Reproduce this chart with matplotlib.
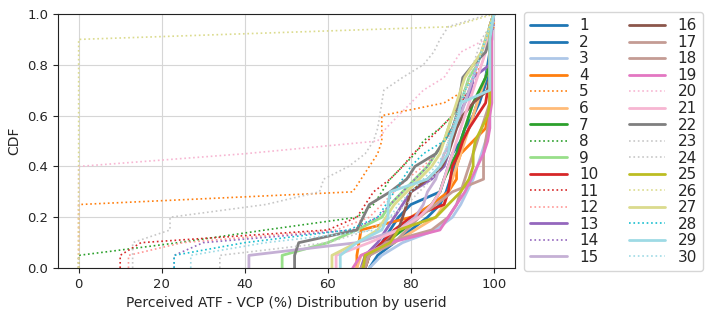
import numpy as np
import matplotlib
matplotlib.use('Agg')
import matplotlib.pyplot as plt
import seaborn as sns

# per-user sorted samples (21 quantiles each), value = perceived ATF - VCP (%)
user_ids = [str(i) for i in range(1, 31)]

u1 = [68, 70, 73, 75, 77, 80, 87, 88, 89, 90, 92, 93, 95, 96, 97, 98, 98.5, 99, 99, 99, 100]
u2 = [70, 72, 76, 80, 84, 87, 88.5, 89.5, 90.5, 91.5, 92.5, 94, 95, 96.5, 97.5, 98.5, 99, 99, 99, 99, 100]
u3 = [70, 73, 78, 86, 90, 92, 93.5, 95, 96, 97, 98, 99, 99, 99, 99, 99, 99, 99, 99, 99, 100]
u4 = [67, 67, 67.5, 68, 80, 85, 89, 91, 91, 92, 95, 98, 98.5, 99, 99, 99, 99, 99, 99, 99, 100]
u5 = [0, 0, 0, 0, 0, 0, 66, 68, 70, 72, 73, 73, 73, 88, 93, 95, 97, 98, 99, 100, 100]
u6 = [67, 68, 76, 81, 86, 88, 89, 90, 91, 92, 93, 94, 95, 96, 97, 98, 99, 99, 99, 99, 100]
u7 = [69, 70, 74, 78, 82, 85, 87, 88, 89.5, 91, 92, 93, 94, 95, 96.5, 98, 99, 99, 99, 99, 100]
u8 = [0, 0, 24, 45, 67, 71, 73, 75, 78, 81, 83, 87, 90, 92, 94, 95, 96, 97, 98, 99, 100]
u9 = [49, 49, 60, 67, 73, 75, 78, 81, 84, 86, 88, 89, 90, 92, 93, 94, 96, 97, 98, 99, 100]
u10 = [69, 70, 73, 76, 80, 88, 89, 89.5, 90, 91.5, 92.5, 94, 96, 98, 98.5, 99, 99, 99, 99, 99, 100]
u11 = [10, 10, 15, 60, 67, 69, 71, 75, 78, 80.5, 84, 87, 90, 92, 94, 95, 96, 97, 98, 99, 100]
u12 = [12, 12, 25, 62, 70, 73, 76, 79, 83, 86, 88, 90, 92, 93, 94, 95, 96, 97, 98, 99, 100]
u13 = [68, 69, 72, 74, 76, 78, 80, 85, 88, 89, 89.5, 90.5, 91.5, 93, 94.5, 95, 99, 99, 99.5, 99.5, 100]
u14 = [23, 23, 30, 66, 72, 75, 78, 81, 84, 86, 88, 89, 90, 92, 94, 96, 97, 98, 99, 100, 100]
u15 = [41, 41, 67, 77, 81, 83, 84, 86, 87, 88, 90, 91, 92, 93, 94, 95, 96, 97, 98, 99, 100]
u16 = [69, 69, 74, 77, 78, 79, 80, 84, 87.5, 89, 90, 91, 92.5, 95, 98.5, 99, 99, 99, 99, 99, 100]
u17 = [69, 70, 76, 79, 82, 86, 90, 97.5, 97.5, 97.5, 98, 98.5, 99, 99, 99, 99, 99, 99, 99, 99, 100]
u18 = [68, 70, 74, 85, 89, 91, 92, 93, 94, 95, 96, 97, 98, 99, 99, 99, 99, 99, 99, 99, 100]
u19 = [66, 68, 75, 87, 89, 91, 93, 94.5, 96, 97.5, 98.5, 99, 99, 99.5, 99.5, 99.5, 99.5, 99.5, 99.5, 99.5, 100]
u20 = [0, 0, 0, 0, 0, 0, 0, 0, 0, 40, 72, 74, 77, 80, 83, 88, 90, 92, 98, 99, 100]
u21 = [62, 62, 70, 77, 82, 85, 87, 88, 89, 90, 91, 92, 93, 94, 95, 96, 97, 98, 98.5, 99, 100]
u22 = [52, 52, 53, 67, 68.5, 70, 75, 79, 81, 86, 88, 90, 91, 91.5, 92, 92.5, 95, 98, 99, 99.5, 100]
u23 = [34, 34, 60, 70, 75, 79, 82, 85, 87, 88, 89, 90, 91, 92, 93, 94, 95, 96, 97, 99, 100]
u24 = [13, 13, 13, 22, 22, 45, 58, 59, 65, 69, 71, 72, 72.5, 73, 73.5, 78, 83, 85.5, 87, 89, 99]
u25 = [68.5, 69, 75, 77, 86, 89, 92, 94, 95, 95, 95.5, 97, 98.5, 99, 99, 99, 99, 99, 99, 99, 100]
u26 = [0] * 19 + [90, 100]
u27 = [61, 61, 67, 72, 74, 76, 79, 82, 85, 87, 88, 89, 90, 91, 92, 93, 95, 97, 98, 99, 100]
u28 = [23, 23, 40, 65, 72, 74, 76, 78, 80, 83, 88, 90, 91, 92, 93, 95, 96, 97, 98, 99, 100]
u29 = [63, 63, 67, 73, 74.5, 74.5, 75, 84, 87, 89, 89.5, 90.5, 91.5, 92, 99, 99, 99, 99, 99, 99.5, 100]
u30 = [27, 27, 45, 72, 75, 77, 80, 83, 86, 88, 89, 90, 91, 92, 93, 95, 96, 97, 98, 99, 100]

samples = [u1, u2, u3, u4, u5, u6, u7, u8, u9, u10, u11, u12, u13, u14, u15,
           u16, u17, u18, u19, u20, u21, u22, u23, u24, u25, u26, u27, u28, u29, u30]

# which users get a dotted line in the original figure
dotted_users = {'5', '8', '11', '12', '14', '20', '23', '24', '26', '28', '30'}

tab = plt.get_cmap('tab20').colors
color_idx = [0, 0, 1, 2, 2, 3, 4, 4, 5, 6, 6, 7, 8, 8, 9,
             10, 11, 11, 12, 13, 13, 14, 15, 15, 16, 17, 17, 18, 19, 19]

sns.set_style('ticks', {'axes.grid': True, 'grid.color': '#d6d6d6'})
plt.rcParams['font.family'] = ['DejaVu Sans']

fig = plt.figure(figsize=(7.06, 3.18), dpi=100)
ax = fig.add_axes([0.082, 0.157, 0.647, 0.799])

for uid, vals, ci in zip(user_ids, samples, color_idx):
    xs = np.sort(np.array(vals, dtype=float))
    ys = np.arange(len(xs)) / float(len(xs) - 1)
    if uid in dotted_users:
        ax.plot(xs, ys, ':', color=tab[ci], lw=1.2, label=uid)
    else:
        ax.plot(xs, ys, '-', color=tab[ci], lw=2.0, label=uid)

ax.set_xlim(-5, 105)
ax.set_ylim(0, 1)
ax.set_xticks([0, 20, 40, 60, 80, 100])
ax.set_yticks([0.0, 0.2, 0.4, 0.6, 0.8, 1.0])
ax.tick_params(labelsize=9.5)
for sp in ax.spines.values():
    sp.set_color('#222222')
ax.set_xlabel('Perceived ATF - VCP (%) Distribution by userid', fontsize=10)
ax.set_ylabel('CDF', fontsize=10)

ax.legend(loc='upper left', bbox_to_anchor=(1.01, 1.025), ncol=2, fontsize=11,
          handlelength=2.4, labelspacing=0.1, columnspacing=2.0, borderaxespad=0.3)

fig.savefig('out.png', dpi=100)
